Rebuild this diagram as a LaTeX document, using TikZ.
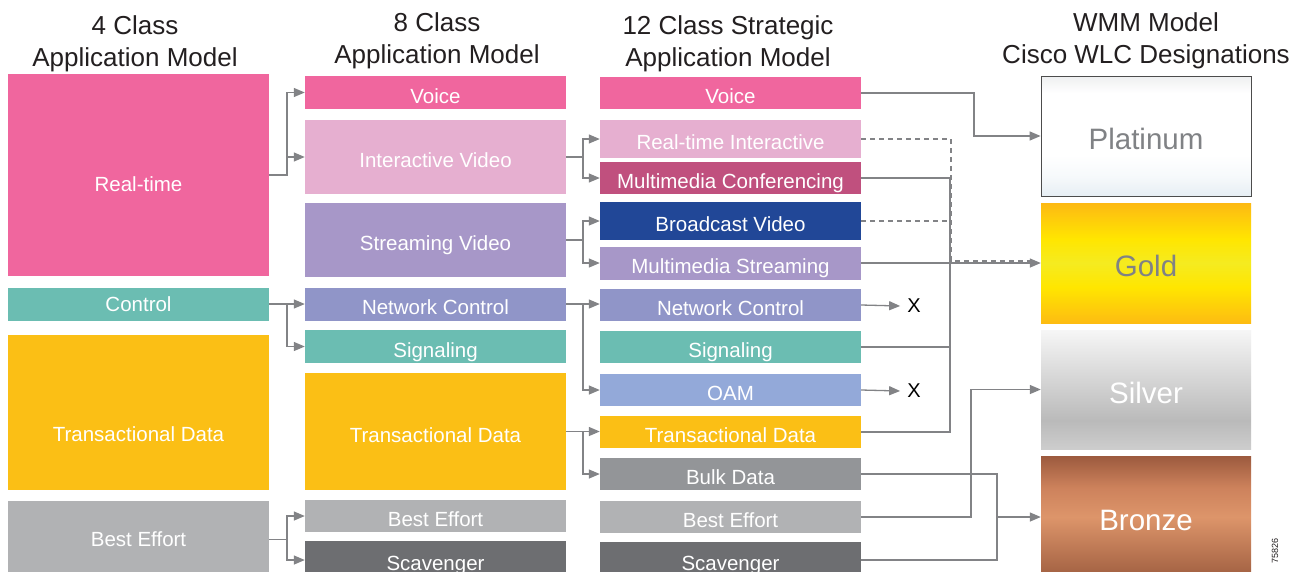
\documentclass[tikz,border=0pt]{standalone}
\usepackage{fontspec}
\setmainfont{Liberation Sans}
\usetikzlibrary{arrows.meta}

\definecolor{rtpink}{RGB}{240,102,158}
\definecolor{ivpink}{RGB}{230,175,208}
\definecolor{mmcpink}{RGB}{192,80,126}
\definecolor{svpurple}{RGB}{167,151,200}
\definecolor{bvblue}{RGB}{33,71,151}
\definecolor{ncpurple}{RGB}{144,149,200}
\definecolor{sigteal}{RGB}{107,189,178}
\definecolor{oamblue}{RGB}{147,169,217}
\definecolor{tdyellow}{RGB}{251,191,21}
\definecolor{bulkgray}{RGB}{147,149,152}
\definecolor{begray}{RGB}{177,178,180}
\definecolor{scavgray}{RGB}{109,110,113}
\definecolor{linegray}{RGB}{130,131,134}
\definecolor{headtext}{RGB}{35,31,32}
\definecolor{wmmtext}{RGB}{128,130,133}

\pgfdeclareverticalshading{platshade}{100bp}{color(0bp)=(rgb,255:red,230;green,238;blue,244);
  color(25bp)=(rgb,255:red,230;green,238;blue,244); color(33bp)=(rgb,255:red,246;green,249;blue,251);
  color(42bp)=(white); color(68bp)=(white); color(75bp)=(rgb,255:red,238;green,239;blue,240);
  color(100bp)=(rgb,255:red,238;green,239;blue,240)}
\pgfdeclareverticalshading{goldshade}{100bp}{color(0bp)=(rgb,255:red,253;green,188;blue,18);
  color(25bp)=(rgb,255:red,253;green,188;blue,18); color(40bp)=(rgb,255:red,255;green,230;blue,0);
  color(50bp)=(rgb,255:red,245;green,235;blue,32); color(60bp)=(rgb,255:red,255;green,230;blue,0);
  color(75bp)=(rgb,255:red,253;green,185;blue,19); color(100bp)=(rgb,255:red,253;green,185;blue,19)}
\pgfdeclareverticalshading{silvershade}{100bp}{color(0bp)=(rgb,255:red,205;green,205;blue,205);
  color(25bp)=(rgb,255:red,205;green,205;blue,205); color(37bp)=(rgb,255:red,186;green,186;blue,186);
  color(75bp)=(rgb,255:red,246;green,246;blue,246); color(100bp)=(rgb,255:red,246;green,246;blue,246)}
\pgfdeclareverticalshading{bronzeshade}{100bp}{color(0bp)=(rgb,255:red,160;green,95;blue,65);
  color(25bp)=(rgb,255:red,160;green,95;blue,65); color(50bp)=(rgb,255:red,221;green,149;blue,106);
  color(62bp)=(rgb,255:red,205;green,130;blue,92); color(75bp)=(rgb,255:red,156;green,90;blue,62);
  color(100bp)=(rgb,255:red,156;green,90;blue,62)}

\tikzset{
  cls/.style={rectangle, inner sep=0pt, minimum width=261pt, text=white,
    font=\fontsize{20.5}{22}\selectfont, text height=21.7pt, text depth=0pt},
  cls4/.style={cls, text height=14.7pt},
  lbl/.style={inner sep=0pt, text=white, font=\fontsize{20.5}{22}\selectfont,
    text height=14.7pt, text depth=0pt},
  wmm/.style={rectangle, inner sep=0pt, minimum width=210pt, font=\fontsize{29.5}{32}\selectfont,
    text height=27pt, text depth=0pt},
  head/.style={align=center, text=headtext, font=\fontsize{26}{32}\selectfont},
  xmark/.style={inner sep=0pt, text=black, font=\fontsize{20}{22}\selectfont},
  conn/.style={draw=linegray, line width=1.3pt},
  arr/.style={conn, -{Triangle[length=11pt,width=9pt]}},
  dashconn/.style={conn, dash pattern=on 5pt off 4pt}
}

\begin{document}
\begin{tikzpicture}[x=1pt,y=-1pt]
  \useasboundingbox (0,0) rectangle (1295,571);
  \fill[white] (0,0) rectangle (1295,571);
  \clip (0,0) rectangle (1295,571);

  %%%%%%%%%%%%%Headings%%%%%%%%%%%%%%%%%%%%%%
  \node[head] (hd4) at (135,44) {4 Class\\Application Model};
  \node[head] (hd8) at (437,41) {8 Class\\Application Model};
  \node[head] (hd12) at (728,44) {12 Class Strategic\\Application Model};
  \node[head] (hdwmm) at (1146,41) {WMM Model\\Cisco WLC Designations};

  %%%%%%%%%%%%%4 class model%%%%%%%%%%%%%%%%%%%%%%
  \node[cls4, fill=rtpink, minimum height=202pt] (rt4) at (138.5,175) {};
  \node[lbl] (rt4txt) at (138.5,184) {Real-time};
  \node[cls4, fill=sigteal, minimum height=33pt] (ctl4) at (138.5,304) {Control};
  \node[cls4, fill=tdyellow, minimum height=155pt] (td4) at (138.5,412.5) {};
  \node[lbl] (td4txt) at (138.5,434) {Transactional Data};
  \node[cls4, fill=begray, minimum height=78pt] (be4) at (138.5,539.5) {Best Effort};

  %%%%%%%%%%%%%8 class model%%%%%%%%%%%%%%%%%%%%%%
  \node[cls, fill=rtpink, minimum height=33pt] (voice8) at (435.5,92.5) {Voice};
  \node[cls, fill=ivpink, minimum height=74pt] (iv8) at (435.5,157) {Interactive Video};
  \node[cls, fill=svpurple, minimum height=74pt] (sv8) at (435.5,240) {Streaming Video};
  \node[cls, fill=ncpurple, minimum height=33pt] (nc8) at (435.5,304) {Network Control};
  \node[cls, fill=sigteal, minimum height=33pt] (sig8) at (435.5,346.5) {Signaling};
  \node[cls, fill=tdyellow, minimum height=117pt] (td8) at (435.5,431.5) {Transactional Data};
  \node[cls, fill=begray, minimum height=32pt] (be8) at (435.5,516) {Best Effort};
  \node[cls, fill=scavgray, minimum height=38pt] (scav8) at (435.5,560) {Scavenger};

  %%%%%%%%%%%%%12 class model%%%%%%%%%%%%%%%%%%%%%%
  \node[cls, fill=rtpink, minimum height=32pt] (voice12) at (730.5,93) {Voice};
  \node[cls, fill=ivpink, minimum height=38pt] (rti12) at (730.5,139) {Real-time Interactive};
  \node[cls, fill=mmcpink, minimum height=32pt] (mmc12) at (730.5,178) {Multimedia Conferencing};
  \node[cls, fill=bvblue, minimum height=38pt] (bv12) at (730.5,221) {Broadcast Video};
  \node[cls, fill=svpurple, minimum height=33pt] (mms12) at (730.5,263) {Multimedia Streaming};
  \node[cls, fill=ncpurple, minimum height=32pt] (nc12) at (730.5,305) {Network Control};
  \node[cls, fill=sigteal, minimum height=32pt] (sig12) at (730.5,347) {Signaling};
  \node[cls, fill=oamblue, minimum height=32pt] (oam12) at (730.5,390) {OAM};
  \node[cls, fill=tdyellow, minimum height=32pt] (td12) at (730.5,432) {Transactional Data};
  \node[cls, fill=bulkgray, minimum height=32pt] (bulk12) at (730.5,474) {Bulk Data};
  \node[cls, fill=begray, minimum height=32pt] (be12) at (730.5,517) {Best Effort};
  \node[cls, fill=scavgray, minimum height=36pt] (scav12) at (730.5,560) {Scavenger};

  %%%%%%%%%%%%%WMM model%%%%%%%%%%%%%%%%%%%%%%
  \node[wmm, shading=platshade, draw=black!70, line width=0.8pt, minimum height=120pt,
    text=wmmtext] (plat) at (1146,136) {Platinum};
  \node[wmm, shading=goldshade, minimum height=120pt, text=wmmtext] (gold) at (1146,263) {Gold};
  \node[wmm, shading=silvershade, minimum height=119pt, text=white] (silver) at (1146,389.5) {Silver};
  \node[wmm, shading=bronzeshade, minimum height=122pt, text=white] (bronze) at (1146,517) {Bronze};

  \node[xmark] (x1) at (914,306) {X};
  \node[xmark] (x2) at (914,391) {X};
  \node[rotate=90, text=headtext, font=\fontsize{9}{10}\selectfont] (fig) at (1275,551) {75826};

  %%%%%%%%%%%%%4 to 8%%%%%%%%%%%%%%%%%%%%%%
  \coordinate (busA) at (287,0);
  \draw[arr] (rt4.east) -- (rt4.east -| busA) |- (voice8.west);
  \draw[arr] (rt4.east -| busA) |- (iv8.west);
  \draw[arr] (ctl4.east) -- (nc8.west);
  \draw[arr] (ctl4.east -| busA) |- (sig8.west);
  \draw[arr] (be4.east) -- (be4.east -| busA) |- (be8.west);
  \draw[arr] (be4.east -| busA) |- (scav8.west);

  %%%%%%%%%%%%%8 to 12%%%%%%%%%%%%%%%%%%%%%%
  \coordinate (busB) at (583,0);
  \draw[arr] (iv8.east) -- (iv8.east -| busB) |- (rti12.west);
  \draw[arr] (iv8.east -| busB) |- (mmc12.west);
  \draw[arr] (sv8.east) -- (sv8.east -| busB) |- (bv12.west);
  \draw[arr] (sv8.east -| busB) |- (mms12.west);
  \draw[arr] (nc8.east) -- (nc8.east -| nc12.west);
  \draw[arr] (nc8.east -| busB) |- (oam12.west);
  \draw[arr] (td8.east) -- (td8.east -| td12.west);
  \draw[arr] (td8.east -| busB) |- (bulk12.west);

  %%%%%%%%%%%%%12 to WMM%%%%%%%%%%%%%%%%%%%%%%
  \coordinate (busV) at (974,0);
  \coordinate (busG) at (950,0);
  \coordinate (busD) at (951,0);
  \coordinate (busS) at (971,0);
  \coordinate (busZ) at (997,0);
  \draw[arr] (voice12.east) -- (voice12.east -| busV) |- (plat.west);
  \draw[dashconn] (rti12.east) -- (rti12.east -| busD) -- ([yshift=2pt]gold.west -| busD)
    -- ([xshift=-10pt,yshift=2pt]gold.west);
  \draw[dashconn] (bv12.east) -- (bv12.east -| busD);
  \draw[conn] (mmc12.east) -- (mmc12.east -| busG) -- (td12.east -| busG) -- (td12.east);
  \draw[conn] (sig12.east) -- (sig12.east -| busG);
  \draw[arr] (mms12.east) -- (mms12.east -| gold.west);
  \draw[arr] (nc12.east) -- ([xshift=-7pt]x1.west);
  \draw[arr] (oam12.east) -- ([xshift=-7pt]x2.west);
  \draw[arr] (be12.east) -- (be12.east -| busS) |- (silver.west);
  \draw[conn] (bulk12.east) -- (bulk12.east -| busZ) -- (scav12.east -| busZ) -- (scav12.east);
  \draw[arr] (bronze.west -| busZ) -- (bronze.west);
\end{tikzpicture}
\end{document}
